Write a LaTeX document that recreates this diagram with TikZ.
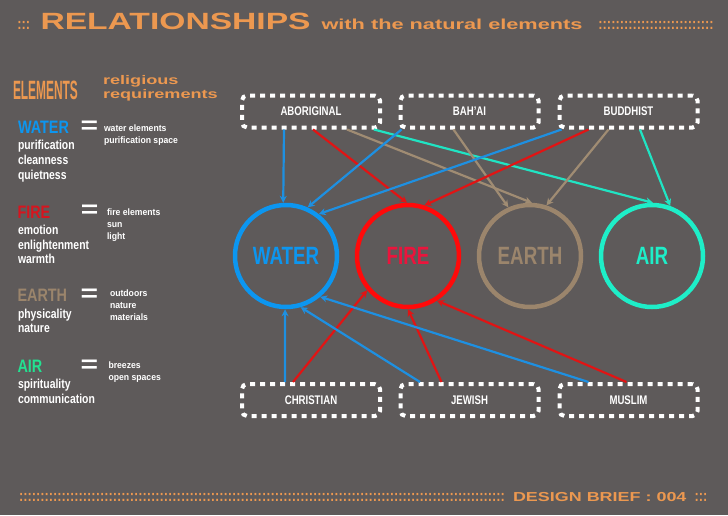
\documentclass[tikz,border=0pt]{standalone}
\usepackage{fontspec}
\usepackage{graphicx}
\setmainfont{Liberation Sans}
\usetikzlibrary{arrows.meta}
\definecolor{bg}{RGB}{94,90,90}
\definecolor{org}{RGB}{236,152,80}
\definecolor{wblue}{RGB}{12,150,240}
\definecolor{lblue}{RGB}{30,144,225}
\definecolor{fred}{RGB}{255,10,10}
\definecolor{lred}{RGB}{225,20,20}
\definecolor{ftxt}{RGB}{235,20,60}
\definecolor{hred}{RGB}{215,20,30}
\definecolor{etan}{RGB}{155,133,108}
\definecolor{ltan}{RGB}{160,140,115}
\definecolor{acyan}{RGB}{30,238,200}
\definecolor{lcyan}{RGB}{32,228,195}
\definecolor{agreen}{RGB}{35,225,145}
\newcommand\colonfill[1]{\hbox to #1{\cleaders\hbox{\scalebox{0.8}[1]{:}}\hfill}}
\tikzset{
  txt/.style={inner sep=0pt, outer sep=0pt, anchor=base west},
  colons/.style={txt, text=org, font=\bfseries\fontsize{16}{16}\selectfont},
  head/.style={txt, font=\bfseries\fontsize{18}{18}\selectfont, xscale=0.8},
  desc/.style={txt, text=white, font=\bfseries\fontsize{13}{13}\selectfont, xscale=0.8},
  req/.style={txt, text=white, font=\bfseries\fontsize{9.3}{9.3}\selectfont, xscale=0.93},
  eqsign/.style={inner sep=0pt, text=white, font=\bfseries\fontsize{24}{24}\selectfont, xscale=1.25},
  relbox/.style={draw=white, line width=4pt, dash pattern=on 5pt off 5pt, rounded corners=5pt,
    minimum width=138pt, minimum height=32pt, inner sep=0pt, text=white,
    font=\bfseries\fontsize{12.5}{12.5}\selectfont},
  eltcirc/.style={circle, minimum size=102pt, inner sep=0pt, line width=4.5pt,
    font=\bfseries\fontsize{25}{25}\selectfont},
  conn/.style={line width=2.2pt, -{Stealth[length=7pt,width=7pt]}}
}
\begin{document}
\begin{tikzpicture}[x=1pt,y=-1pt]
\fill[bg] (0,0) rectangle (728,515);
\useasboundingbox (0,0) rectangle (728,515);

% title
\node[colons] (c1) at (17,29) {\colonfill{13.5pt}};
\node[txt, text=org, font=\bfseries\fontsize{23.5}{23.5}\selectfont, xscale=1.43] (t1) at (40.5,29) {RELATIONSHIPS};
\node[txt, text=org, font=\bfseries\fontsize{14.5}{14.5}\selectfont, xscale=1.5] (t2) at (321.5,29) {with the natural elements};
\node[colons] (c2) at (598,29) {\colonfill{116pt}};

% footer
\node[colons] (c3) at (18,501) {\colonfill{488pt}};
\node[txt, text=org, font=\bfseries\fontsize{13}{13}\selectfont, xscale=1.38] (db) at (513,501.5) {DESIGN BRIEF : 004};
\node[colons] (c4) at (694,501) {\colonfill{14pt}};

% left column
\node[txt, text=org, font=\bfseries\fontsize{26.5}{26.5}\selectfont, xscale=0.45] (elts) at (13,99) {ELEMENTS};
\node[txt, text=org, font=\bfseries\fontsize{12.5}{12.5}\selectfont, xscale=1.45] (rel1) at (103,84) {religious};
\node[txt, text=org, font=\bfseries\fontsize{12.5}{12.5}\selectfont, xscale=1.45] (rel2) at (103,98) {requirements};

\node[head, text=wblue] (hw) at (18,133.3) {WATER};
\node[eqsign] (ew) at (89.5,127.5) {=};
\node[req] (rw1) at (104,131) {water elements};
\node[req] (rw2) at (104,143) {purification space};
\node[desc] (dw1) at (18,149.5) {purification};
\node[desc] (dw2) at (18,164.5) {cleanness};
\node[desc] (dw3) at (18,179) {quietness};

\node[head, text=hred] (hf) at (17.5,218.3) {FIRE};
\node[eqsign] (ef) at (89.7,211.7) {=};
\node[req] (rf1) at (107,215.7) {fire elements};
\node[req] (rf2) at (107,227.4) {sun};
\node[req] (rf3) at (107,239.1) {light};
\node[desc] (df1) at (18,234) {emotion};
\node[desc] (df2) at (18,249) {enlightenment};
\node[desc] (df3) at (18,263) {warmth};

\node[head, text=etan] (he) at (17.5,301.7) {EARTH};
\node[eqsign] (ee) at (89.5,295) {=};
\node[req] (re1) at (110,296.7) {outdoors};
\node[req] (re2) at (110,308.5) {nature};
\node[req] (re3) at (110,320.3) {materials};
\node[desc] (de1) at (18,318.5) {physicality};
\node[desc] (de2) at (18,332.5) {nature};

\node[head, text=agreen] (ha) at (17.5,372.3) {AIR};
\node[eqsign] (ea) at (89.5,366) {=};
\node[req] (ra1) at (108.5,368.3) {breezes};
\node[req] (ra2) at (108.5,380) {open spaces};
\node[desc] (da1) at (18,388.5) {spirituality};
\node[desc] (da2) at (18,403) {communication};

% religion boxes
\node[relbox] (abo) at (311,111.5) {\scalebox{0.77}[1]{ABORIGINAL}};
\node[relbox] (bah) at (469.5,111.5) {\scalebox{0.77}[1]{BAH'AI}};
\node[relbox] (bud) at (628.5,111.5) {\scalebox{0.77}[1]{BUDDHIST}};
\node[relbox] (chr) at (311,400) {\scalebox{0.77}[1]{CHRISTIAN}};
\node[relbox] (jew) at (469.5,400) {\scalebox{0.77}[1]{JEWISH}};
\node[relbox] (mus) at (628.5,400) {\scalebox{0.77}[1]{MUSLIM}};

% element circles
\node[eltcirc, draw=wblue, text=wblue] (water) at (286,256) {\scalebox{0.75}[1]{WATER}};
\node[eltcirc, draw=fred, text=ftxt] (fire) at (408,256) {\scalebox{0.75}[1]{FIRE}};
\node[eltcirc, draw=etan, text=etan] (earth) at (530,256) {\scalebox{0.75}[1]{EARTH}};
\node[eltcirc, draw=acyan, text=acyan] (air) at (652,256) {\scalebox{0.75}[1]{AIR}};

% connectors from top
\draw[conn, lblue] ([xshift=-27pt]abo.south) -- (water.93);
\draw[conn, lred] ([xshift=2pt]abo.south) -- (fire.91.5);
\draw[conn, ltan] ([xshift=36pt]abo.south) -- (earth.88);
\draw[conn, lcyan] ([xshift=63pt]abo.south) -- (air.89);
\draw[conn, lblue] ([xshift=-68pt]bah.south) -- (water.66);
\draw[conn, ltan] ([xshift=-16pt]bah.south) -- (earth.114);
\draw[conn, lblue] ([xshift=-67pt]bud.south) -- (water.52);
\draw[conn, lred] ([xshift=-40pt]bud.south) -- (fire.72);
\draw[conn, ltan] ([xshift=-20pt]bud.south) -- (earth.72);
\draw[conn, lcyan] ([xshift=11.5pt]bud.south) -- (air.70.5);

% connectors from bottom
\draw[conn, lblue] ([xshift=-26pt]chr.north) -- (water.-91);
\draw[conn, lred] ([xshift=-18pt]chr.north) -- (fire.-140);
\draw[conn, lblue] ([xshift=-49.5pt]jew.north) -- (water.-74);
\draw[conn, lred] ([xshift=-28pt]jew.north) -- (fire.-90);
\draw[conn, lblue] ([xshift=-40pt]mus.north) -- (water.-50);
\draw[conn, lred] ([xshift=-2pt]mus.north) -- (fire.-57);
\end{tikzpicture}
\end{document}
